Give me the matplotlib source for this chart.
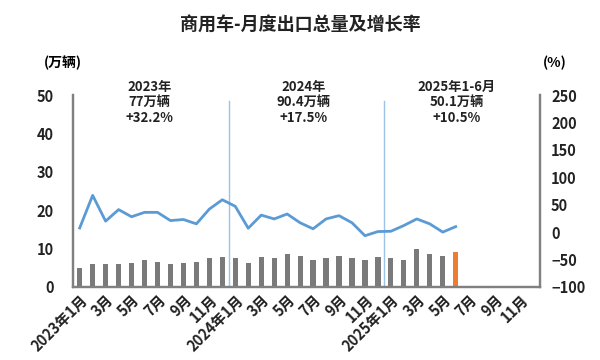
import matplotlib
matplotlib.use("Agg")
import matplotlib.pyplot as plt

plt.rcParams['font.family'] = ['Noto Sans CJK SC', 'DejaVu Sans']

# 2023-01 .. 2025-12, volume in 万辆 (only up to 2025-06)
months = ['2023年1月', '2月', '3月', '4月', '5月', '6月', '7月', '8月', '9月', '10月', '11月', '12月',
          '2024年1月', '2月', '3月', '4月', '5月', '6月', '7月', '8月', '9月', '10月', '11月', '12月',
          '2025年1月', '2月', '3月', '4月', '5月', '6月', '7月', '8月', '9月', '10月', '11月', '12月']
volume = [4.9, 5.9, 5.9, 5.9, 6.3, 6.9, 6.6, 5.9, 6.3, 6.6, 7.5, 7.9,
          7.5, 6.3, 7.9, 7.5, 8.5, 8.1, 6.9, 7.5, 8.1, 7.5, 7.1, 7.9,
          7.5, 6.9, 9.9, 8.5, 8.1, 9.2]
growth = [7.5, 67, 20, 41, 28, 36, 36, 21, 23, 15, 42, 59,
          47, 7, 31, 24, 33, 17, 6, 24, 30, 17, -6.6, 1,
          1.5, 12, 24, 15, 0, 10]
notes = ['2023年\n77万辆\n+32.2%', '2024年\n90.4万辆\n+17.5%', '2025年1-6月\n50.1万辆\n+10.5%']
note_pos = [5.4, 17.3, 29.1]

fig = plt.figure(figsize=(6, 3.6), dpi=100)
ax = fig.add_axes([0.122, 0.203, 0.778, 0.533])
ax2 = ax.twinx()

x = list(range(len(volume)))
colors = ['#7a7a7a'] * (len(volume) - 1) + ['#ED7D31']
ax.bar(x, volume, width=0.4, color=colors)
ax.set_xlim(-0.5, len(months) - 0.5)
ax.set_ylim(0, 50)
ax.set_yticks([0, 10, 20, 30, 40, 50])

ax2.plot(range(len(growth)), growth, color='#5B9BD5', linewidth=2)
ax2.set_ylim(-100, 250)
ax2.set_yticks(range(-100, 251, 50))

for xv in [11.5, 23.5]:
    ax.axvline(xv, ymin=0, ymax=0.97, color='#9DC3E6', linewidth=1)

ticks = list(range(0, len(months), 2))
ax.set_xticks(ticks)
ax.set_xticklabels([months[i] for i in ticks], rotation=45, ha='right',
                   rotation_mode='anchor', fontsize=9, fontweight='bold')

for a in (ax, ax2):
    a.tick_params(length=0, labelsize=10.5, colors='#222222')
    a.spines['top'].set_visible(False)
    for s in ('left', 'right', 'bottom'):
        a.spines[s].set_color('#808080')
        a.spines[s].set_linewidth(1.6)
for lbl in ax.get_yticklabels() + ax2.get_yticklabels():
    lbl.set_fontweight('bold')
ax.tick_params(axis='y', pad=14)
ax2.tick_params(axis='y', pad=8)

for txt, xp in zip(notes, note_pos):
    ax.text(xp, 54, txt, ha='center', va='top', fontsize=9.5, fontweight='bold',
            linespacing=1.15, color='#222222')

fig.text(0.5, 0.93, '商用车-月度出口总量及增长率', ha='center', va='center',
         fontsize=13, fontweight='bold', color='#222222')
fig.text(0.105, 0.825, '(万辆)', ha='center', va='center', fontsize=10, fontweight='bold')
fig.text(0.925, 0.825, '(%)', ha='center', va='center', fontsize=10, fontweight='bold')

fig.savefig('out.png', dpi=100)
